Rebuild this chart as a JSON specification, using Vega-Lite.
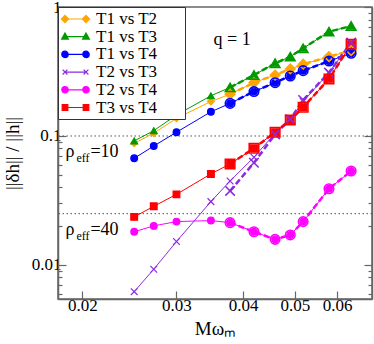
{
  "$schema": "https://vega.github.io/schema/vega-lite/v6.json",
  "autosize": {"type": "none"},
  "padding": {"left": 58, "top": 7, "right": 2, "bottom": 45},
  "width": 314,
  "height": 292,
  "config": {
    "font": "Liberation Serif",
    "view": {"stroke": "#666", "strokeWidth": 1.5},
    "axis": {
      "grid": false,
      "domainColor": "#666",
      "domainWidth": 1.5,
      "tickColor": "#666",
      "tickWidth": 1.2,
      "labelColor": "black",
      "labelFont": "Liberation Serif",
      "labelFontSize": 17,
      "titleFont": "Liberation Serif",
      "titleFontSize": 19,
      "titleFontWeight": "normal",
      "titleColor": "black"
    }
  },
  "datasets": {
    "thin": [
      {"s": "T1 vs T2", "x": 0.025, "y": 0.0878}, {"s": "T1 vs T2", "x": 0.0272, "y": 0.105}, {"s": "T1 vs T2", "x": 0.030, "y": 0.137}, {"s": "T1 vs T2", "x": 0.0348, "y": 0.185}, {"s": "T1 vs T2", "x": 0.0378, "y": 0.211}, {"s": "T1 vs T2", "x": 0.0419, "y": 0.259}, {"s": "T1 vs T2", "x": 0.0459, "y": 0.297}, {"s": "T1 vs T2", "x": 0.049, "y": 0.331}, {"s": "T1 vs T2", "x": 0.0518, "y": 0.360}, {"s": "T1 vs T2", "x": 0.0579, "y": 0.412}, {"s": "T1 vs T2", "x": 0.0637, "y": 0.459},
      {"s": "T1 vs T3", "x": 0.025, "y": 0.0915}, {"s": "T1 vs T3", "x": 0.0272, "y": 0.110}, {"s": "T1 vs T3", "x": 0.030, "y": 0.1455}, {"s": "T1 vs T3", "x": 0.0348, "y": 0.205}, {"s": "T1 vs T3", "x": 0.0378, "y": 0.238}, {"s": "T1 vs T3", "x": 0.0419, "y": 0.297}, {"s": "T1 vs T3", "x": 0.0459, "y": 0.366}, {"s": "T1 vs T3", "x": 0.049, "y": 0.412}, {"s": "T1 vs T3", "x": 0.0518, "y": 0.478}, {"s": "T1 vs T3", "x": 0.0579, "y": 0.644}, {"s": "T1 vs T3", "x": 0.0637, "y": 0.712},
      {"s": "T1 vs T4", "x": 0.025, "y": 0.0672}, {"s": "T1 vs T4", "x": 0.0272, "y": 0.0836}, {"s": "T1 vs T4", "x": 0.030, "y": 0.107}, {"s": "T1 vs T4", "x": 0.0348, "y": 0.154}, {"s": "T1 vs T4", "x": 0.0378, "y": 0.179}, {"s": "T1 vs T4", "x": 0.0419, "y": 0.221}, {"s": "T1 vs T4", "x": 0.0459, "y": 0.259}, {"s": "T1 vs T4", "x": 0.049, "y": 0.292}, {"s": "T1 vs T4", "x": 0.0518, "y": 0.321}, {"s": "T1 vs T4", "x": 0.0579, "y": 0.381}, {"s": "T1 vs T4", "x": 0.0637, "y": 0.438},
      {"s": "T2 vs T3", "x": 0.025, "y": 0.00621}, {"s": "T2 vs T3", "x": 0.0272, "y": 0.00927}, {"s": "T2 vs T3", "x": 0.030, "y": 0.0152}, {"s": "T2 vs T3", "x": 0.0348, "y": 0.031}, {"s": "T2 vs T3", "x": 0.0378, "y": 0.0448}, {"s": "T2 vs T3", "x": 0.0419, "y": 0.0684}, {"s": "T2 vs T3", "x": 0.0459, "y": 0.105}, {"s": "T2 vs T3", "x": 0.049, "y": 0.135}, {"s": "T2 vs T3", "x": 0.0518, "y": 0.185}, {"s": "T2 vs T3", "x": 0.0579, "y": 0.310}, {"s": "T2 vs T3", "x": 0.0637, "y": 0.529},
      {"s": "T2 vs T4", "x": 0.025, "y": 0.0181}, {"s": "T2 vs T4", "x": 0.0272, "y": 0.0201}, {"s": "T2 vs T4", "x": 0.030, "y": 0.0217}, {"s": "T2 vs T4", "x": 0.0348, "y": 0.0221}, {"s": "T2 vs T4", "x": 0.0378, "y": 0.0213}, {"s": "T2 vs T4", "x": 0.0419, "y": 0.0181}, {"s": "T2 vs T4", "x": 0.0459, "y": 0.0158}, {"s": "T2 vs T4", "x": 0.049, "y": 0.0171}, {"s": "T2 vs T4", "x": 0.0518, "y": 0.0217}, {"s": "T2 vs T4", "x": 0.0579, "y": 0.039}, {"s": "T2 vs T4", "x": 0.0637, "y": 0.0535},
      {"s": "T3 vs T4", "x": 0.025, "y": 0.0236}, {"s": "T3 vs T4", "x": 0.0272, "y": 0.0285}, {"s": "T3 vs T4", "x": 0.030, "y": 0.0353}, {"s": "T3 vs T4", "x": 0.0348, "y": 0.0508}, {"s": "T3 vs T4", "x": 0.0378, "y": 0.0607}, {"s": "T3 vs T4", "x": 0.0419, "y": 0.0803}, {"s": "T3 vs T4", "x": 0.0459, "y": 0.107}, {"s": "T3 vs T4", "x": 0.049, "y": 0.133}, {"s": "T3 vs T4", "x": 0.0518, "y": 0.167}, {"s": "T3 vs T4", "x": 0.0579, "y": 0.277}, {"s": "T3 vs T4", "x": 0.0637, "y": 0.514}
    ],
    "thick": [
      {"s": "T1 vs T2", "x": 0.0378, "y": 0.211}, {"s": "T1 vs T2", "x": 0.0419, "y": 0.259}, {"s": "T1 vs T2", "x": 0.0459, "y": 0.297}, {"s": "T1 vs T2", "x": 0.049, "y": 0.331}, {"s": "T1 vs T2", "x": 0.0518, "y": 0.360}, {"s": "T1 vs T2", "x": 0.0579, "y": 0.412}, {"s": "T1 vs T2", "x": 0.0637, "y": 0.459},
      {"s": "T1 vs T3", "x": 0.0378, "y": 0.238}, {"s": "T1 vs T3", "x": 0.0419, "y": 0.297}, {"s": "T1 vs T3", "x": 0.0459, "y": 0.366}, {"s": "T1 vs T3", "x": 0.049, "y": 0.412}, {"s": "T1 vs T3", "x": 0.0518, "y": 0.478}, {"s": "T1 vs T3", "x": 0.0579, "y": 0.644}, {"s": "T1 vs T3", "x": 0.0637, "y": 0.712},
      {"s": "T1 vs T4", "x": 0.0378, "y": 0.179}, {"s": "T1 vs T4", "x": 0.0419, "y": 0.221}, {"s": "T1 vs T4", "x": 0.0459, "y": 0.259}, {"s": "T1 vs T4", "x": 0.049, "y": 0.292}, {"s": "T1 vs T4", "x": 0.0518, "y": 0.321}, {"s": "T1 vs T4", "x": 0.0579, "y": 0.381}, {"s": "T1 vs T4", "x": 0.0637, "y": 0.438},
      {"s": "T2 vs T3", "x": 0.0378, "y": 0.0375}, {"s": "T2 vs T3", "x": 0.0419, "y": 0.062}, {"s": "T2 vs T3", "x": 0.0459, "y": 0.103}, {"s": "T2 vs T3", "x": 0.049, "y": 0.135}, {"s": "T2 vs T3", "x": 0.0518, "y": 0.19}, {"s": "T2 vs T3", "x": 0.0579, "y": 0.310}, {"s": "T2 vs T3", "x": 0.0637, "y": 0.529},
      {"s": "T2 vs T4", "x": 0.0378, "y": 0.0213}, {"s": "T2 vs T4", "x": 0.0419, "y": 0.0181}, {"s": "T2 vs T4", "x": 0.0459, "y": 0.0158}, {"s": "T2 vs T4", "x": 0.049, "y": 0.0171}, {"s": "T2 vs T4", "x": 0.0518, "y": 0.0217}, {"s": "T2 vs T4", "x": 0.0579, "y": 0.039}, {"s": "T2 vs T4", "x": 0.0637, "y": 0.0535},
      {"s": "T3 vs T4", "x": 0.0378, "y": 0.0607}, {"s": "T3 vs T4", "x": 0.0419, "y": 0.0803}, {"s": "T3 vs T4", "x": 0.0459, "y": 0.107}, {"s": "T3 vs T4", "x": 0.049, "y": 0.133}, {"s": "T3 vs T4", "x": 0.0518, "y": 0.167}, {"s": "T3 vs T4", "x": 0.0579, "y": 0.277}, {"s": "T3 vs T4", "x": 0.0637, "y": 0.514}
    ],
    "leg": [{"s": "T1 vs T2"}, {"s": "T1 vs T3"}, {"s": "T1 vs T4"}, {"s": "T2 vs T3"}, {"s": "T2 vs T4"}, {"s": "T3 vs T4"}],
    "refs": [{"y": 0.1}, {"y": 0.025}],
    "notes": [
      {"t": "q = 1", "x": 0.0352, "y": 0.507},
      {"t": "ρ", "x": 0.01859, "y": 0.0687},
      {"t": "=10", "x": 0.0207, "y": 0.0687},
      {"t": "ρ", "x": 0.01859, "y": 0.01699},
      {"t": "=40", "x": 0.0207, "y": 0.01699}
    ],
    "subs": [
      {"t": "eff", "x": 0.01949, "y": 0.0629},
      {"t": "eff", "x": 0.01949, "y": 0.01563}
    ]
  },
  "resolve": {"axis": {"y": "independent"}, "scale": {"shape": "independent"}},
  "layer": [
    {
      "data": {"name": "refs"},
      "mark": {"type": "rule", "strokeDash": [1.5, 2.5], "color": "#555", "strokeWidth": 1},
      "encoding": {
        "y": {"field": "y", "type": "quantitative",
          "scale": {"type": "log", "domain": [0.00545, 1], "nice": false},
          "axis": {"orient": "left", "values": [0.01, 0.1, 1], "format": "~g", "tickSize": -8, "labelPadding": 5,
            "title": "||δh|| / ||h||", "titleAngle": -90, "titleX": -40, "titleY": 146, "titleAlign": "center", "titleBaseline": "alphabetic"}}
      }
    },
    {
      "data": {"name": "thin"},
      "mark": {"type": "line", "strokeWidth": 1},
      "encoding": {
        "x": {"field": "x", "type": "quantitative",
          "scale": {"type": "log", "domain": [0.018, 0.0697], "nice": false},
          "axis": {"values": [0.02, 0.03, 0.04, 0.05, 0.06], "format": ".2f", "tickSize": -8, "labelPadding": 6,
            "title": "Mωₘ", "titleY": 35, "titleBaseline": "alphabetic"}},
        "y": {"field": "y", "type": "quantitative",
          "axis": {"orient": "left", "values": [0.006, 0.007, 0.008, 0.009, 0.02, 0.03, 0.04, 0.05, 0.06, 0.07, 0.08, 0.09, 0.2, 0.3, 0.4, 0.5, 0.6, 0.7, 0.8, 0.9], "labels": false, "tickSize": -4, "domain": false, "title": null}},
        "color": {"field": "s", "type": "nominal", "legend": null,
          "scale": {"domain": ["T1 vs T2", "T1 vs T3", "T1 vs T4", "T2 vs T3", "T2 vs T4", "T3 vs T4"],
                    "range": ["#FFA500", "#009A00", "#0000FF", "#8A2BE2", "#FF00FF", "#FF0000"]}}
      }
    },
    {
      "data": {"name": "thick"},
      "mark": {"type": "line", "strokeWidth": 2.5, "strokeDash": [6, 3]},
      "encoding": {
        "x": {"field": "x", "type": "quantitative"},
        "y": {"field": "y", "type": "quantitative",
          "axis": {"orient": "right", "values": [0.01, 0.1, 1], "labels": false, "tickSize": -8, "title": null}},
        "color": {"field": "s", "type": "nominal", "legend": null}
      }
    },
    {
      "data": {"name": "thin"},
      "mark": {"type": "point", "filled": true, "size": 45, "strokeWidth": 1.2, "opacity": 1},
      "encoding": {
        "x": {"field": "x", "type": "quantitative"},
        "y": {"field": "y", "type": "quantitative",
          "axis": {"orient": "right", "values": [0.006, 0.007, 0.008, 0.009, 0.02, 0.03, 0.04, 0.05, 0.06, 0.07, 0.08, 0.09, 0.2, 0.3, 0.4, 0.5, 0.6, 0.7, 0.8, 0.9], "labels": false, "tickSize": -4, "domain": false, "title": null}},
        "fill": {"field": "s", "type": "nominal", "legend": null,
          "scale": {"domain": ["T1 vs T2", "T1 vs T3", "T1 vs T4", "T2 vs T3", "T2 vs T4", "T3 vs T4"],
                    "range": ["#FFA500", "#009A00", "#0000FF", "#8A2BE2", "#FF00FF", "#FF0000"]}},
        "stroke": {"field": "s", "type": "nominal", "legend": null,
          "scale": {"domain": ["T1 vs T2", "T1 vs T3", "T1 vs T4", "T2 vs T3", "T2 vs T4", "T3 vs T4"],
                    "range": ["#FFA500", "#009A00", "#0000FF", "#8A2BE2", "#FF00FF", "#FF0000"]}},
        "shape": {"field": "s", "type": "nominal", "legend": null,
          "scale": {"domain": ["T1 vs T2", "T1 vs T3", "T1 vs T4", "T2 vs T3", "T2 vs T4", "T3 vs T4"],
                    "range": ["diamond", "triangle-up", "circle", "M-1,-1L1,1M-1,1L1,-1", "circle", "square"]}}
      }
    },
    {
      "data": {"name": "thick"},
      "mark": {"type": "point", "filled": false, "size": 90, "strokeWidth": 1.6, "opacity": 1},
      "encoding": {
        "x": {"field": "x", "type": "quantitative"},
        "y": {"field": "y", "type": "quantitative", "axis": null},
        "stroke": {"field": "s", "type": "nominal", "legend": null},
        "shape": {"field": "s", "type": "nominal", "legend": null,
          "scale": {"domain": ["T1 vs T2", "T1 vs T3", "T1 vs T4", "T2 vs T3", "T2 vs T4", "T3 vs T4"],
                    "range": ["diamond", "triangle-up", "circle", "M-1,-1L1,1M-1,1L1,-1", "circle", "square"]}}
      }
    },
    {
      "data": {"name": "notes"},
      "mark": {"type": "text", "fontSize": 18, "align": "left", "baseline": "alphabetic", "color": "black"},
      "encoding": {
        "x": {"field": "x", "type": "quantitative"},
        "y": {"field": "y", "type": "quantitative", "axis": null},
        "text": {"field": "t"}
      }
    },
    {
      "data": {"name": "subs"},
      "mark": {"type": "text", "fontSize": 12, "align": "left", "baseline": "alphabetic", "color": "black"},
      "encoding": {
        "x": {"field": "x", "type": "quantitative"},
        "y": {"field": "y", "type": "quantitative", "axis": null},
        "text": {"field": "t"}
      }
    },
    {
      "data": {"name": "leg"},
      "mark": {"type": "point", "filled": true, "opacity": 0},
      "encoding": {
        "color": {"field": "s", "type": "nominal", "legend": null},
        "shape": {"field": "s", "type": "nominal",
          "scale": {"domain": ["T1 vs T2", "T1 vs T3", "T1 vs T4", "T2 vs T3", "T2 vs T4", "T3 vs T4"],
                    "range": [
                      "M-0.625,0L2,0M-0.625,-0.45L-0.175,0L-0.625,0.45L-1.075,0ZM2,-0.45L2.45,0L2,0.45L1.55,0Z",
                      "M-0.625,0L2,0M-0.625,-0.45L-0.205,0.3L-1.045,0.3ZM2,-0.45L2.42,0.3L1.58,0.3Z",
                      "M-0.625,0L2,0M-1.025,0A0.4,0.4,0,1,0,-0.225,0A0.4,0.4,0,1,0,-1.025,0ZM1.6,0A0.4,0.4,0,1,0,2.4,0A0.4,0.4,0,1,0,1.6,0Z",
                      "M-0.625,0L2,0M-0.925,-0.3L-0.325,0.3M-0.925,0.3L-0.325,-0.3M1.7,-0.3L2.3,0.3M1.7,0.3L2.3,-0.3",
                      "M-0.625,0L2,0M-1.025,0A0.4,0.4,0,1,0,-0.225,0A0.4,0.4,0,1,0,-1.025,0ZM1.6,0A0.4,0.4,0,1,0,2.4,0A0.4,0.4,0,1,0,1.6,0Z",
                      "M-0.625,0L2,0M-0.975,-0.35L-0.275,-0.35L-0.275,0.35L-0.975,0.35ZM1.65,-0.35L2.35,-0.35L2.35,0.35L1.65,0.35Z"
                    ]},
          "legend": {
            "orient": "top-left", "offset": 0, "title": null, "padding": 3, "rowPadding": 0.7,
            "symbolSize": 256, "symbolOpacity": 1, "symbolStrokeWidth": 1.2,
            "symbolFillColor": {"expr": "scale('color', datum.value)"},
            "symbolStrokeColor": {"expr": "scale('color', datum.value)"},
            "labelOffset": 17, "labelFontSize": 17, "labelFont": "Liberation Serif", "labelColor": "black",
            "strokeColor": "#333", "fillColor": "white", "cornerRadius": 0,
            "labelExpr": "datum.label + '\u2800\u2800'"
          }}
      }
    }
  ]
}
